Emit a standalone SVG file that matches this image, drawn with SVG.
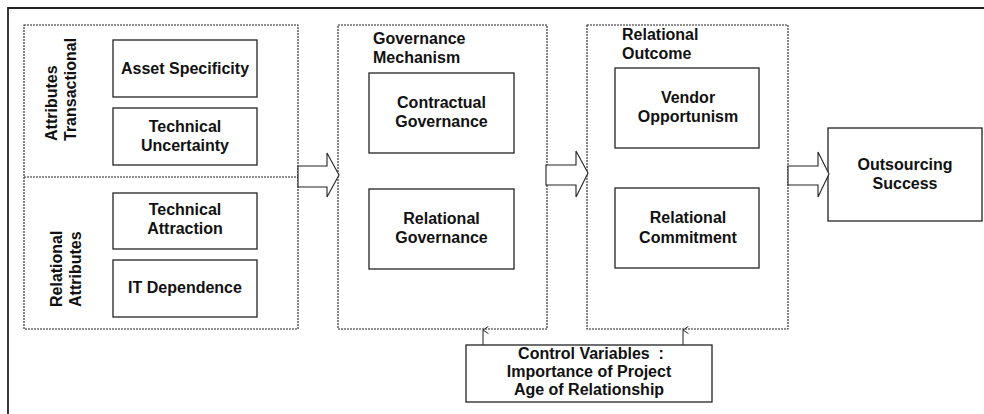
<svg xmlns="http://www.w3.org/2000/svg" width="984" height="414" viewBox="0 0 984 414">
  <style>
    .frame { fill: none; stroke: #222; stroke-width: 1.8; }
    .group { fill: none; stroke: #222; stroke-width: 1.1; stroke-dasharray: 2 1; }
    .box { fill: #fff; stroke: #222; stroke-width: 1.3; }
    .blk { fill: #fff; stroke: #222; stroke-width: 1.1; stroke-linejoin: miter; }
    .lbl { font-family: "Liberation Sans", Arial, sans-serif; font-weight: bold; font-size: 16px; fill: #111; white-space: pre; }
    .c { text-anchor: middle; }
    .link { fill: none; stroke: #222; stroke-width: 1; }
  </style>
  <defs>
    <marker id="openHead" viewBox="0 0 10 10" refX="5" refY="1" markerWidth="9" markerHeight="9" markerUnits="userSpaceOnUse" orient="auto-start-reverse">
      <path d="M1,7 L5,1 L9,7" fill="none" stroke="#222" stroke-width="1.1"/>
    </marker>
  </defs>

  <rect width="984" height="414" fill="#fff"/>
  <path class="frame" d="M8,414 V8 H984"/>

  <!-- Attribute groups -->
  <g id="attributes">
    <rect class="group" x="24" y="25" width="274" height="304"/>
    <line class="group" x1="24" y1="177" x2="298" y2="177"/>
    <text class="lbl" transform="translate(57,141) rotate(-90)">Attributes</text>
    <text class="lbl" transform="translate(76,141) rotate(-90)">Transactional</text>
    <text class="lbl" transform="translate(62,307) rotate(-90)">Relational</text>
    <text class="lbl" transform="translate(81,307) rotate(-90)">Attributes</text>
  </g>

  <g id="asset-specificity">
    <rect class="box" x="113" y="40" width="144" height="57"/>
    <text class="lbl c" x="185" y="74">Asset Specificity</text>
  </g>
  <g id="technical-uncertainty">
    <rect class="box" x="113" y="108" width="144" height="57"/>
    <text class="lbl c" x="185" y="132">Technical</text>
    <text class="lbl c" x="185" y="151">Uncertainty</text>
  </g>
  <g id="technical-attraction">
    <rect class="box" x="113" y="193" width="144" height="56"/>
    <text class="lbl c" x="185" y="215">Technical</text>
    <text class="lbl c" x="185" y="234">Attraction</text>
  </g>
  <g id="it-dependence">
    <rect class="box" x="113" y="260" width="144" height="57"/>
    <text class="lbl c" x="185" y="293">IT Dependence</text>
  </g>

  <!-- Governance mechanism group -->
  <g id="governance-mechanism">
    <rect class="group" x="338" y="25" width="209" height="304"/>
    <text class="lbl" x="373" y="44">Governance</text>
    <text class="lbl" x="373" y="63">Mechanism</text>
  </g>
  <g id="contractual-governance">
    <rect class="box" x="369" y="73" width="145" height="80"/>
    <text class="lbl c" x="441.5" y="108">Contractual</text>
    <text class="lbl c" x="441.5" y="127">Governance</text>
  </g>
  <g id="relational-governance">
    <rect class="box" x="369" y="189" width="145" height="80"/>
    <text class="lbl c" x="441.5" y="224">Relational</text>
    <text class="lbl c" x="441.5" y="243">Governance</text>
  </g>

  <!-- Relational outcome group -->
  <g id="relational-outcome">
    <rect class="group" x="587" y="25" width="201" height="304"/>
    <text class="lbl" x="622" y="40">Relational</text>
    <text class="lbl" x="622" y="59">Outcome</text>
  </g>
  <g id="vendor-opportunism">
    <rect class="box" x="615" y="68" width="144" height="80"/>
    <text class="lbl c" x="688" y="103">Vendor</text>
    <text class="lbl c" x="688" y="122">Opportunism</text>
  </g>
  <g id="relational-commitment">
    <rect class="box" x="615" y="188" width="144" height="80"/>
    <text class="lbl c" x="688" y="223">Relational</text>
    <text class="lbl c" x="688" y="243">Commitment</text>
  </g>

  <g id="outsourcing-success">
    <rect class="box" x="828" y="128" width="154" height="93"/>
    <text class="lbl c" x="905" y="170">Outsourcing</text>
    <text class="lbl c" x="905" y="189">Success</text>
  </g>

  <g id="control-variables">
    <rect class="box" x="466" y="345" width="246" height="57"/>
    <text class="lbl c" x="591" y="359" xml:space="preserve">Control Variables  :</text>
    <text class="lbl c" x="589" y="377">Importance of Project</text>
    <text class="lbl c" x="589" y="395">Age of Relationship</text>
  </g>

  <!-- Connectors -->
  <g id="connectors">
    <path class="blk" d="M298,166 H327 V153 L339,175 L327,197 V187 H298 Z"/>
    <path class="blk" d="M546,165 H576 V151 L588,173 L576,197 V185 H546 Z"/>
    <path class="blk" d="M788,166 H818 V152 L829,174 L818,197 V185 H788 Z"/>
    <line class="link" x1="483" y1="345" x2="483" y2="330" marker-end="url(#openHead)"/>
    <line class="link" x1="683" y1="345" x2="683" y2="330" marker-end="url(#openHead)"/>
  </g>
</svg>
